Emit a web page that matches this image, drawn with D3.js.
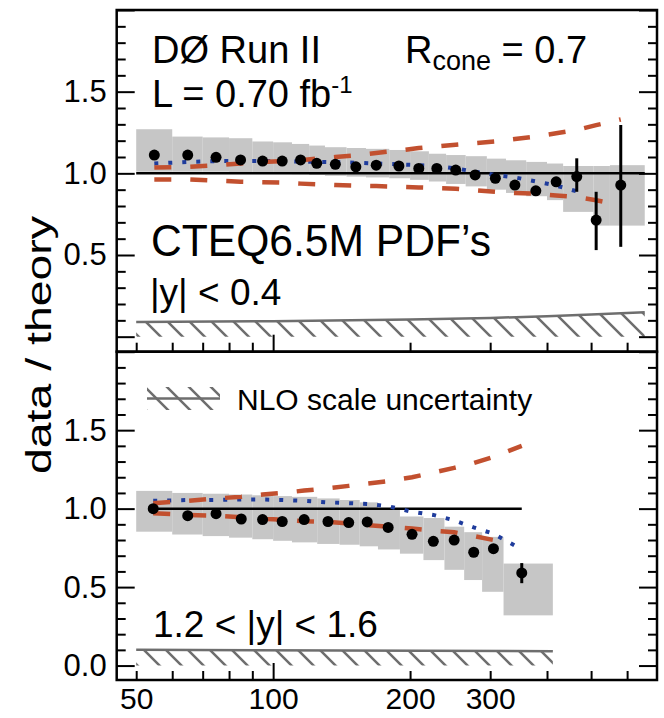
<!DOCTYPE html>
<html lang="en">
<head>
<meta charset="UTF-8">
<title>data / theory</title>
<style>
  body { margin: 0; background: #fff; }
  svg { display: block; font-family: "Liberation Sans", Arial, Helvetica, sans-serif; }
  .frame { fill: none; stroke: #000; stroke-width: 2.5; }
  .axis path { display: none; }
  .axis line { stroke: #000; stroke-width: 2; }
  .axis text { font-size: 31px; fill: #000; font-family: "Liberation Sans", Arial, sans-serif; }
  .xlab text { font-size: 30px; }
  .band { fill: #c6c6c6; }
  .unity { stroke: #000; stroke-width: 2.5; fill: none; }
  .pdf-unc { fill: none; stroke: #c2502f; stroke-width: 4.5; stroke-dasharray: 17 19; }
  .mrst { fill: none; stroke: #1f3c9c; stroke-width: 4; stroke-dasharray: 4 10; }
  .scale-edge { stroke: #6e6e6e; stroke-width: 2.5; fill: none; }
  .dot { fill: #000; }
  .err { stroke: #000; stroke-width: 3; }
  .lbl { fill: #000; }
</style>
</head>
<body>
<svg width="664" height="718"></svg>
<script src="https://d3js.org/d3.v7.min.js"></script>
<script>
// ---- |y| < 0.4 (upper panel) ----
const ptTop = [54.8, 64.9, 74.9, 84.8, 94.8, 104.7, 114.9, 124.7, 137, 152, 168.5, 189, 209, 229, 252, 278, 308, 340, 378, 419, 465, 513, 581];
const ratioTop = [1.112, 1.112, 1.098, 1.082, 1.075, 1.075, 1.082, 1.061, 1.055, 1.04, 1.05, 1.045, 1.03, 1.03, 1.02, 0.99, 0.97, 0.928, 0.893, 0.948, 0.98, 0.714, 0.928];
const errLoTop = [0.005, 0.005, 0.005, 0.005, 0.005, 0.005, 0.005, 0.005, 0.005, 0.005, 0.005, 0.005, 0.005, 0.006, 0.006, 0.007, 0.008, 0.01, 0.012, 0.03, 0.093, 0.184, 0.378];
const errHiTop = [0.005, 0.005, 0.005, 0.005, 0.005, 0.005, 0.005, 0.005, 0.005, 0.005, 0.005, 0.005, 0.005, 0.006, 0.006, 0.007, 0.008, 0.01, 0.012, 0.03, 0.112, 0.173, 0.368];
const pdfUpTop = [1.035, 1.04, 1.05, 1.06, 1.07, 1.075, 1.08, 1.09, 1.1, 1.11, 1.125, 1.14, 1.155, 1.165, 1.175, 1.185, 1.195, 1.21, 1.225, 1.245, 1.265, 1.295, 1.33];
const pdfDnTop = [0.963, 0.963, 0.955, 0.949, 0.946, 0.944, 0.937, 0.933, 0.928, 0.924, 0.922, 0.918, 0.914, 0.91, 0.906, 0.897, 0.887, 0.88, 0.875, 0.865, 0.855, 0.835, 0.805];
const mrstTop = [1.06, 1.07, 1.075, 1.075, 1.075, 1.075, 1.072, 1.07, 1.068, 1.065, 1.06, 1.055, 1.05, 1.045, 1.03, 1.01, 0.99, 0.975, 0.95, 0.925, 0.89];
const binEdgesTop = [50, 60, 70, 80, 90, 100, 110, 120, 130, 145, 160, 180, 200, 220, 240, 265, 295, 325, 360, 400, 434, 506, 550, 656];
const sysLoTop = [1.01, 1.01, 1.01, 1.0, 1.0, 1.0, 0.995, 0.99, 0.985, 0.98, 0.975, 0.97, 0.96, 0.95, 0.935, 0.92, 0.9, 0.88, 0.86, 0.836, 0.764, 0.68, 0.68];
const sysHiTop = [1.27, 1.225, 1.22, 1.215, 1.195, 1.19, 1.18, 1.17, 1.16, 1.155, 1.15, 1.143, 1.135, 1.12, 1.112, 1.105, 1.09, 1.08, 1.07, 1.06, 1.045, 1.045, 1.05];
const scalePtTop = [50, 100, 200, 300, 400, 500, 656];
const scaleUncTop = [0.09, 0.095, 0.105, 0.115, 0.125, 0.135, 0.15];

// ---- 1.2 < |y| < 1.6 (lower panel) ----
const ptBot = [54.5, 64.9, 74.9, 85.1, 94.8, 104.7, 117, 132, 146.6, 161, 179, 202, 225, 250, 276, 305, 352];
const ratioBot = [1.0, 0.955, 0.968, 0.934, 0.93, 0.918, 0.93, 0.918, 0.911, 0.915, 0.88, 0.836, 0.792, 0.8, 0.722, 0.745, 0.59];
const errLoBot = [0.005, 0.005, 0.005, 0.005, 0.005, 0.005, 0.005, 0.005, 0.005, 0.005, 0.006, 0.006, 0.007, 0.008, 0.01, 0.012, 0.065];
const errHiBot = [0.005, 0.005, 0.005, 0.005, 0.005, 0.005, 0.005, 0.005, 0.005, 0.005, 0.006, 0.006, 0.007, 0.008, 0.01, 0.012, 0.063];
const pdfUpBot = [1.035, 1.05, 1.065, 1.075, 1.09, 1.1, 1.115, 1.13, 1.145, 1.16, 1.175, 1.2, 1.23, 1.26, 1.29, 1.33, 1.4];
const pdfDnBot = [0.97, 0.96, 0.955, 0.945, 0.935, 0.93, 0.92, 0.915, 0.905, 0.895, 0.885, 0.873, 0.86, 0.85, 0.825, 0.8];
const mrstBot = [1.05, 1.055, 1.055, 1.058, 1.058, 1.055, 1.05, 1.04, 1.035, 1.03, 1.015, 0.98, 0.96, 0.925, 0.88, 0.84, 0.74];
const binEdgesBot = [50, 60, 70, 80, 90, 100, 110, 125, 140, 155, 170, 190, 214, 238, 263, 288, 321, 412];
const sysLoBot = [0.853, 0.835, 0.825, 0.815, 0.805, 0.795, 0.785, 0.775, 0.77, 0.76, 0.74, 0.713, 0.672, 0.61, 0.545, 0.47, 0.32];
const sysHiBot = [1.113, 1.1, 1.095, 1.09, 1.085, 1.08, 1.075, 1.065, 1.055, 1.04, 1.0, 0.95, 0.94, 0.885, 0.85, 0.82, 0.65];
const scalePtBot = [50, 412];
const scaleUncBot = [0.1, 0.092];

// axis ticks
const xTickMinor = [50, 60, 70, 80, 90, 200, 300, 400, 500, 600];
const xTickMajor = [100];
const xTickLabels = [50, 100, 200, 300];
const yTickLabelsTop = [0.5, 1.0, 1.5];
const yTickLabelsBot = [0.0, 0.5, 1.0, 1.5];

const svg = d3.select("svg");
const frameL = 116.7, frameR = 657, frameT = 10, frameM = 351.7, frameB = 680;

const x = d3.scaleLog().domain([45.3, 698]).range([frameL, frameR]);
const yTop = d3.scaleLinear().domain([-0.092, 2.0]).range([frameM, frameT]);
const yBot = d3.scaleLinear().domain([-0.092, 2.0]).range([frameB, frameM]);

// hatch pattern for the NLO scale uncertainty
const defs = svg.append("defs");
defs.append("pattern")
    .attr("id", "hatch")
    .attr("patternUnits", "userSpaceOnUse")
    .attr("width", 22).attr("height", 22)
  .append("path")
    .attr("d", "M-2,-2L24,24M-2,20L2,24M20,-2L24,2")
    .attr("stroke", "#6e6e6e")
    .attr("stroke-width", 2.5);

const yMinor = d3.range(0, 21).map(k => k / 10).filter((v, k) => k % 5 !== 0);
const yMajor = [0, 0.5, 1.0, 1.5, 2.0];

function drawPanel(y, d) {
    const g = svg.append("g");

    // systematic uncertainty band
    g.selectAll(".band")
        .data(d.lo)
        .enter().append("rect")
        .attr("class", "band")
        .attr("x", (v, i) => x(d.edges[i]))
        .attr("width", (v, i) => x(d.edges[i + 1]) - x(d.edges[i]))
        .attr("y", (v, i) => y(d.hi[i]))
        .attr("height", (v, i) => y(d.lo[i]) - y(d.hi[i]));

    // NLO scale uncertainty (hatched)
    const sc = d.scalePt.map((p, i) => [p, d.scaleUnc[i]]);
    g.append("path")
        .attr("d", d3.area().x(p => x(p[0])).y0(y(0)).y1(p => y(p[1]))(sc))
        .attr("fill", "url(#hatch)");
    g.append("path")
        .attr("class", "scale-edge")
        .attr("d", d3.line().x(p => x(p[0])).y(p => y(p[1]))(sc));

    // unity line
    g.append("line")
        .attr("class", "unity")
        .attr("x1", x(d.unity[0])).attr("x2", x(d.unity[1]))
        .attr("y1", y(1)).attr("y2", y(1));

    const line = d3.line().x(p => x(p[0])).y(p => y(p[1]));
    const pairs = vals => vals.map((v, i) => [d.pt[i], v]);
    g.append("path").attr("class", "mrst").attr("d", line(pairs(d.mrst)));
    g.append("path").attr("class", "pdf-unc").attr("d", line(pairs(d.up)));
    g.append("path").attr("class", "pdf-unc").attr("d", line(pairs(d.dn)));

    // data
    g.selectAll(".err")
        .data(d.ratio)
        .enter().append("line")
        .attr("class", "err")
        .attr("x1", (v, i) => x(d.pt[i])).attr("x2", (v, i) => x(d.pt[i]))
        .attr("y1", (v, i) => y(v - d.errLo[i]))
        .attr("y2", (v, i) => y(v + d.errHi[i]));
    g.selectAll(".dot")
        .data(d.ratio)
        .enter().append("circle")
        .attr("class", "dot")
        .attr("cx", (v, i) => x(d.pt[i]))
        .attr("cy", v => y(v))
        .attr("r", 5.5);

    // y ticks, left and right, pointing inward
    const yr = y.range();
    g.append("g").attr("class", "axis").attr("transform", `translate(${frameL},0)`)
        .call(d3.axisLeft(y).tickValues(yMinor).tickSize(-9).tickFormat(""));
    g.append("g").attr("class", "axis").attr("transform", `translate(${frameL},0)`)
        .call(d3.axisLeft(y).tickValues(yMajor).tickSize(-18).tickFormat(""));
    g.append("g").attr("class", "axis").attr("transform", `translate(${frameL},0)`)
        .call(d3.axisLeft(y).tickValues(d.yLabels).tickSize(0).tickPadding(10).tickFormat(d3.format(".1f")));
    g.append("g").attr("class", "axis").attr("transform", `translate(${frameR},0)`)
        .call(d3.axisRight(y).tickValues(yMinor).tickSize(-9).tickFormat(""));
    g.append("g").attr("class", "axis").attr("transform", `translate(${frameR},0)`)
        .call(d3.axisRight(y).tickValues(yMajor).tickSize(-18).tickFormat(""));

    // x ticks at the bottom of the panel, pointing up
    g.append("g").attr("class", "axis").attr("transform", `translate(0,${yr[0]})`)
        .call(d3.axisBottom(x).tickValues(xTickMinor).tickSize(-9).tickFormat(""));
    g.append("g").attr("class", "axis").attr("transform", `translate(0,${yr[0]})`)
        .call(d3.axisBottom(x).tickValues(xTickMajor).tickSize(-17).tickFormat(""));
    return g;
}

drawPanel(yTop, {
    pt: ptTop, ratio: ratioTop, errLo: errLoTop, errHi: errHiTop,
    up: pdfUpTop, dn: pdfDnTop, mrst: mrstTop,
    edges: binEdgesTop, lo: sysLoTop, hi: sysHiTop,
    scalePt: scalePtTop, scaleUnc: scaleUncTop,
    unity: [50, 656], yLabels: yTickLabelsTop
});
drawPanel(yBot, {
    pt: ptBot, ratio: ratioBot, errLo: errLoBot, errHi: errHiBot,
    up: pdfUpBot, dn: pdfDnBot, mrst: mrstBot,
    edges: binEdgesBot, lo: sysLoBot, hi: sysHiBot,
    scalePt: scalePtBot, scaleUnc: scaleUncBot,
    unity: [ptBot[0], ptBot[ptBot.length - 1]], yLabels: yTickLabelsBot
});

// x labels
svg.append("g").attr("class", "axis xlab").attr("transform", `translate(0,${frameB})`)
    .call(d3.axisBottom(x).tickValues(xTickLabels).tickSize(0).tickPadding(8).tickFormat(d3.format("d")));

// frames
svg.append("rect").attr("class", "frame").attr("x", frameL).attr("y", frameT)
    .attr("width", frameR - frameL).attr("height", frameM - frameT);
svg.append("rect").attr("class", "frame").attr("x", frameL).attr("y", frameM)
    .attr("width", frameR - frameL).attr("height", frameB - frameM);

// y title
svg.append("text").attr("class", "lbl")
    .attr("transform", "translate(51,345) rotate(-90)")
    .attr("text-anchor", "middle")
    .attr("font-size", 35)
    .attr("textLength", 258).attr("lengthAdjust", "spacingAndGlyphs")
    .text("data / theory");

// annotations
svg.append("text").attr("class", "lbl").attr("x", 152).attr("y", 63)
    .attr("font-size", 38).text("DØ Run II");
const rc = svg.append("text").attr("class", "lbl").attr("x", 405).attr("y", 63).attr("font-size", 38);
rc.append("tspan").text("R");
rc.append("tspan").attr("font-size", 27).attr("dy", 7).text("cone");
rc.append("tspan").attr("dy", -7).text(" = 0.7");
const lum = svg.append("text").attr("class", "lbl").attr("x", 152).attr("y", 107).attr("font-size", 38);
lum.append("tspan").text("L = 0.70 fb");
lum.append("tspan").attr("font-size", 24).attr("dy", -14).text("-1");

svg.append("text").attr("class", "lbl").attr("x", 151).attr("y", 256)
    .attr("font-size", 44).attr("textLength", 340).attr("lengthAdjust", "spacingAndGlyphs")
    .text("CTEQ6.5M PDF’s");
svg.append("text").attr("class", "lbl").attr("x", 150).attr("y", 305)
    .attr("font-size", 37).text("|y| < 0.4");
svg.append("text").attr("class", "lbl").attr("x", 153).attr("y", 637)
    .attr("font-size", 37).text("1.2 < |y| < 1.6");

// legend for the hatched band
svg.append("rect").attr("x", 147).attr("y", 387).attr("width", 73).attr("height", 23)
    .attr("fill", "url(#hatch)");
svg.append("line").attr("class", "scale-edge").attr("x1", 147).attr("x2", 220)
    .attr("y1", 398.5).attr("y2", 398.5);
svg.append("text").attr("class", "lbl").attr("x", 237).attr("y", 410)
    .attr("font-size", 30).text("NLO scale uncertainty");
</script>
</body>
</html>
